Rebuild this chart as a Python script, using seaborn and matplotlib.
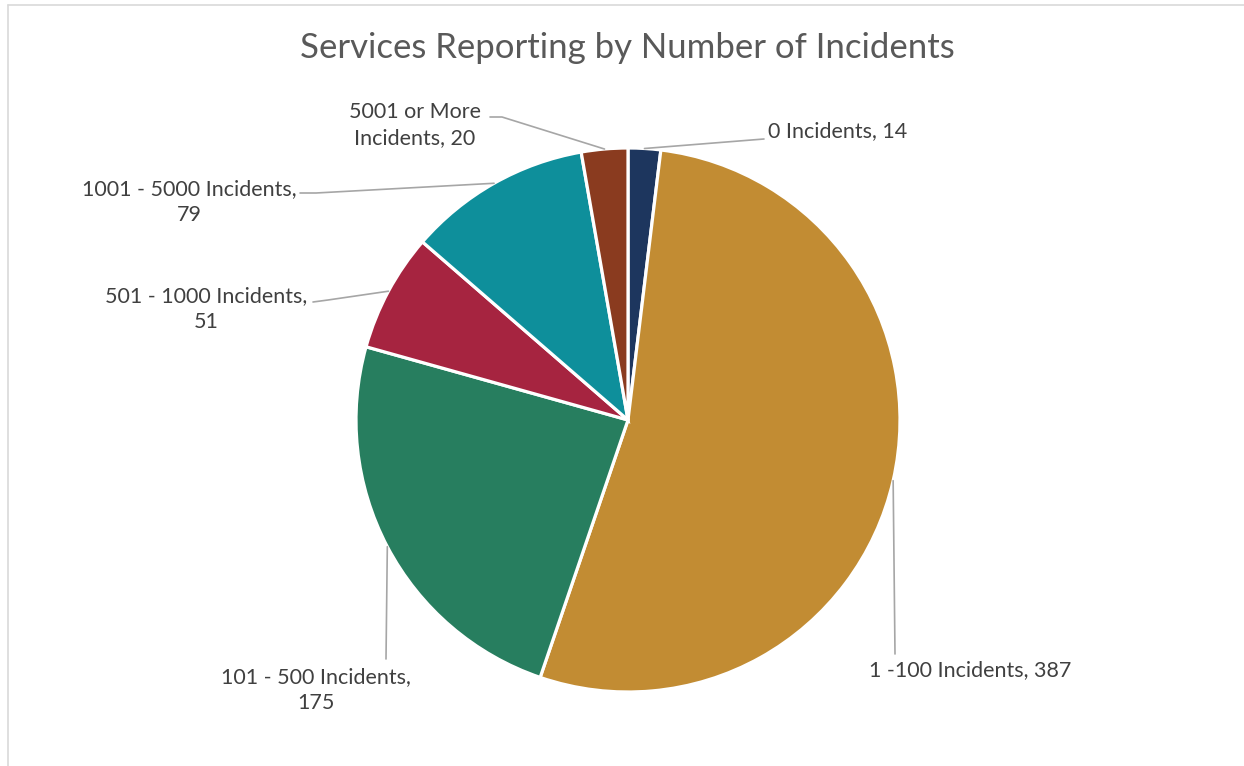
import numpy as np
import matplotlib
matplotlib.use("Agg")
import matplotlib.pyplot as plt
import seaborn as sns

categories = ["0 Incidents", "1 -100 Incidents", "101 - 500 Incidents",
              "501 - 1000 Incidents", "1001 - 5000 Incidents", "5001 or More Incidents"]
values = [14, 387, 175, 51, 79, 20]
label_texts = ["0 Incidents, 14", "1 -100 Incidents, 387", "101 - 500 Incidents,\n175",
               "501 - 1000 Incidents,\n51", "1001 - 5000 Incidents,\n79", "5001 or More\nIncidents, 20"]
colors = ["#1D365E", "#C28C33", "#277E5F", "#A62440", "#0E8F9B", "#8A3B1F"]

sns.set_theme(style="white")
plt.rcParams['font.family'] = ['Lato', 'DejaVu Sans']

W, H = 1244, 766
fig = plt.figure(figsize=(W / 100, H / 100), dpi=100)
ax = fig.add_axes([0, 0, 1, 1])

def Y(py):
    return H - py

cx, cy, R = 628, Y(420), 272
wedges, _ = ax.pie(values, colors=colors, startangle=90, counterclock=False,
                   center=(cx, cy), radius=R, frame=True,
                   wedgeprops=dict(edgecolor="white", linewidth=2.3))
ax.set_xlim(0, W)
ax.set_ylim(0, H)
ax.set_aspect('equal')
ax.axis('off')

# border of the chart area
ax.plot([8, 8], [Y(5), Y(766)], color="#D9D9D9", lw=1.2, clip_on=False)
ax.plot([8, 1244], [Y(5), Y(5)], color="#D9D9D9", lw=1.2, clip_on=False)

ax.text(627, Y(48), "Services Reporting by Number of Incidents", ha="center", va="center",
        fontsize=25, color="#595959")

def edge_point(w):
    a = np.deg2rad((w.theta1 + w.theta2) / 2)
    return cx + R * np.cos(a), cy + R * np.sin(a)

lc = "#A6A6A6"
tc = "#404040"
fs = 15.5
layouts = [
    ([(764, Y(139))], (768, Y(131)), "left"),
    ([(895, Y(654))], (970, Y(670)), "center"),
    ([(386, Y(659))], (316, Y(690)), "center"),
    ([(328, Y(300)), (313, Y(302))], (206, Y(309)), "center"),
    ([(316, Y(193)), (300, Y(193))], (189, Y(202)), "center"),
    ([(502, Y(117)), (490, Y(117))], (415, Y(125)), "center"),
]
for w, txt, (pts, tpos, ha) in zip(wedges, label_texts, layouts):
    sx, sy = edge_point(w)
    xs = [sx] + [p[0] for p in pts]
    ys = [sy] + [p[1] for p in pts]
    ax.plot(xs, ys, color=lc, lw=1.2)
    ax.text(tpos[0], tpos[1], txt, ha=ha, va="center", fontsize=fs, color=tc,
            multialignment="center", linespacing=1.35)

fig.savefig("out.png", dpi=100, facecolor="white")
